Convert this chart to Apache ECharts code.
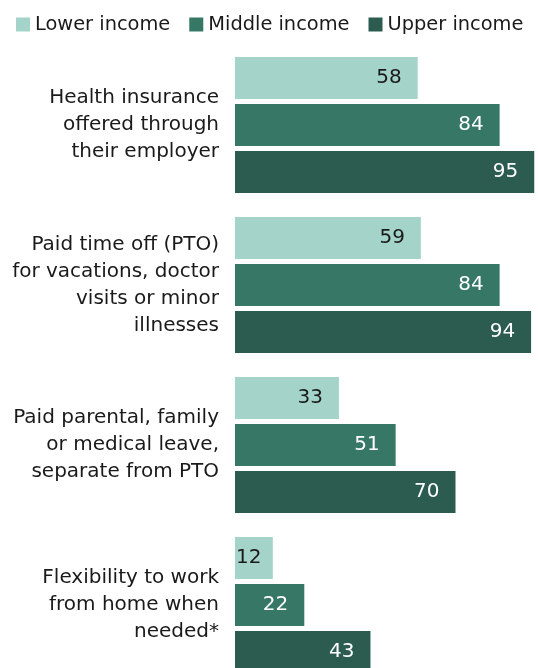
<!DOCTYPE html>
<html>
<head>
<meta charset="utf-8">
<script src="https://cdn.jsdelivr.net/npm/echarts@6/dist/echarts.min.js"></script>
<style>
  html, body { margin: 0; padding: 0; background: #ffffff; }
  #chart { width: 538px; height: 668px; }
</style>
</head>
<body>
<div id="chart"></div>
<script>
// Benefits offered by employers, share of workers by income tier
const categories = [
  'Health insurance\noffered through\ntheir employer',
  'Paid time off (PTO)\nfor vacations, doctor\nvisits or minor\nillnesses',
  'Paid parental, family\nor medical leave,\nseparate from PTO',
  'Flexibility to work\nfrom home when\nneeded*'
];
const seriesNames = ['Lower income', 'Middle income', 'Upper income'];
const lowerIncome = [58, 59, 33, 12];
const middleIncome = [84, 84, 51, 22];
const upperIncome = [95, 94, 70, 43];

const colors = ['#a4d4c9', '#377766', '#2c5c4f'];
const labelColors = ['#1a1a1a', '#ffffff', '#ffffff'];
const FONT = 'DejaVu Sans';

// Short bars can't hold the label at the end, so pin it to the bar's start.
function toData(values) {
  return values.map(function (v) {
    if (v < 15) {
      return { value: v, label: { position: 'insideLeft', distance: 1 } };
    }
    return v;
  });
}

const valueSets = [lowerIncome, middleIncome, upperIncome];

const chart = echarts.init(document.getElementById('chart'));
chart.setOption({
  animation: false,
  color: colors,
  legend: {
    left: 11,
    top: 10,
    itemWidth: 14,
    itemHeight: 14,
    itemGap: 19,
    icon: 'rect',
    textStyle: { fontFamily: FONT, fontSize: 19.4, color: '#1a1a1a' },
    data: seriesNames
  },
  // The last group runs past the lower edge of the canvas.
  grid: {
    left: 235, top: 45, width: 315, height: 640,
    containLabel: false,
    outerBoundsMode: 'none'
  },
  xAxis: {
    type: 'value',
    min: 0,
    max: 100,
    show: false
  },
  yAxis: {
    type: 'category',
    inverse: true,
    data: categories,
    axisLine: { show: false },
    axisTick: { show: false },
    axisLabel: {
      margin: 16,
      fontFamily: FONT,
      fontSize: 20,
      lineHeight: 27,
      color: '#1a1a1a',
      align: 'right'
    }
  },
  series: valueSets.map(function (vals, i) {
    return {
      name: seriesNames[i],
      type: 'bar',
      data: toData(vals),
      barGap: '12%',
      barCategoryGap: '15%',
      itemStyle: { color: colors[i] },
      label: {
        show: true,
        position: 'insideRight',
        distance: 16,
        fontFamily: FONT,
        fontSize: 20,
        color: labelColors[i]
      }
    };
  })
});
</script>
</body>
</html>
